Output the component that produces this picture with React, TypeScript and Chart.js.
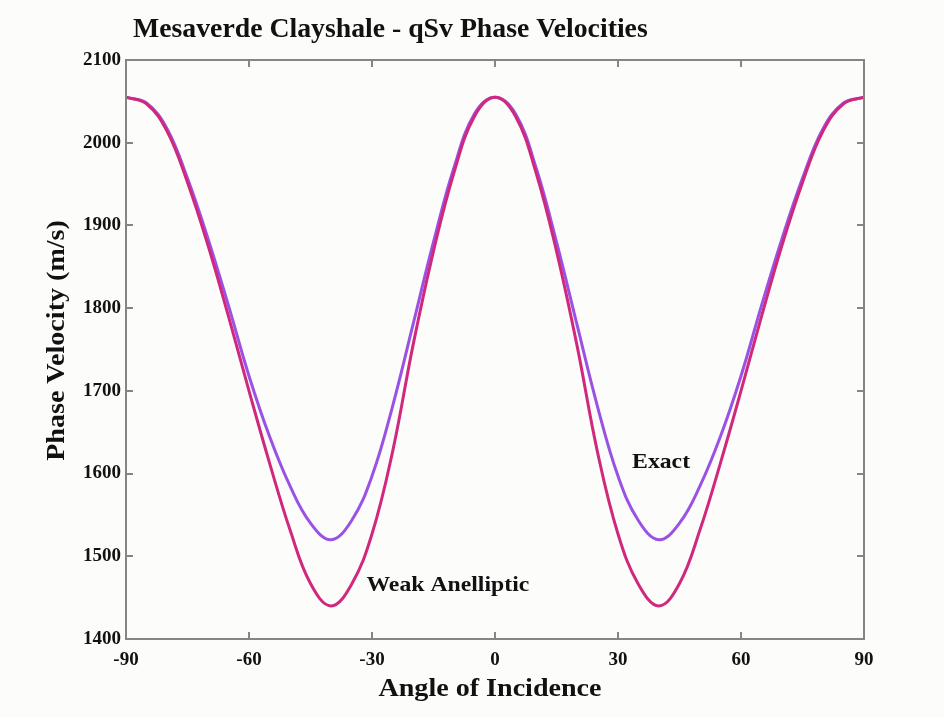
import React, { useEffect, useRef } from "react";
import { Chart, registerables } from "chart.js";

Chart.register(...registerables);

const TITLE = "Mesaverde Clayshale - qSv Phase Velocities";
const X_LABEL = "Angle of Incidence";
const Y_LABEL = "Phase Velocity (m/s)";

const angles = [
  -90, -85, -80, -75, -70, -65, -60, -55, -50, -45, -40, -35, -30, -25, -20, -15, -10, -5, 0,
  5, 10, 15, 20, 25, 30, 35, 40, 45, 50, 55, 60, 65, 70, 75, 80, 85, 90,
];

const exactVelocity = [
  2055, 2048, 2017, 1957, 1884, 1803, 1718, 1645, 1585, 1540, 1520, 1543, 1597, 1681, 1780, 1880, 1970, 2035, 2055,
  2035, 1970, 1880, 1780, 1681, 1597, 1543, 1520, 1540, 1585, 1645, 1718, 1803, 1884, 1957, 2017, 2048, 2055,
];

const weakAnellipticVelocity = [
  2055, 2047, 2014, 1952, 1876, 1790, 1700, 1613, 1532, 1467, 1440, 1466, 1527, 1626, 1755, 1869, 1964, 2032, 2055,
  2032, 1964, 1869, 1755, 1626, 1527, 1466, 1440, 1467, 1532, 1613, 1700, 1790, 1876, 1952, 2014, 2047, 2055,
];

const xTicks = [-90, -60, -30, 0, 30, 60, 90];
const yTicks = [1400, 1500, 1600, 1700, 1800, 1900, 2000, 2100];

const annotationLabels = ["Exact", "Weak Anelliptic"];
const annotationAngles = [40.5, -11.5];
const annotationVelocities = [1613, 1465];

const SERIF = "'Liberation Serif', 'Times New Roman', Times, serif";
const EXACT_COLOR = "#9a52e4";
const WEAK_COLOR = "#d0287c";
const FRAME_COLOR = "#858585";
const BG = "#fcfcfa";

function drawStretched(
  ctx: CanvasRenderingContext2D,
  text: string,
  x: number,
  y: number,
  sx: number,
  sy: number,
  rot = 0
) {
  ctx.save();
  ctx.translate(x, y);
  if (rot) ctx.rotate(rot);
  ctx.scale(sx, sy);
  ctx.fillText(text, 0, 0);
  ctx.restore();
}

const bgPlugin = {
  id: "bg",
  beforeDraw(chart: any) {
    const { ctx, width, height } = chart;
    ctx.save();
    ctx.fillStyle = BG;
    ctx.fillRect(0, 0, width, height);
    ctx.restore();
  },
};

const framePlugin = {
  id: "frame",
  afterDatasetsDraw(chart: any) {
    const { ctx, chartArea, scales } = chart;
    const { left, right, top, bottom } = chartArea;
    const tl = 7;
    ctx.save();
    ctx.strokeStyle = FRAME_COLOR;
    ctx.lineWidth = 2;
    ctx.strokeRect(left, top, right - left, bottom - top);
    ctx.beginPath();
    xTicks.forEach((v) => {
      const px = Math.round(scales.x.getPixelForValue(v));
      ctx.moveTo(px, bottom);
      ctx.lineTo(px, bottom - tl);
      ctx.moveTo(px, top);
      ctx.lineTo(px, top + tl);
    });
    yTicks.forEach((v) => {
      const py = Math.round(scales.y.getPixelForValue(v));
      ctx.moveTo(left, py);
      ctx.lineTo(left + tl, py);
      ctx.moveTo(right, py);
      ctx.lineTo(right - tl, py);
    });
    ctx.stroke();
    ctx.restore();
  },
};

const textPlugin = {
  id: "texts",
  afterDraw(chart: any) {
    const { ctx, chartArea, scales } = chart;
    ctx.save();
    ctx.fillStyle = "#111";
    ctx.textBaseline = "middle";

    ctx.font = `bold 27px ${SERIF}`;
    ctx.textAlign = "left";
    drawStretched(ctx, TITLE, chartArea.left + 7, chartArea.top - 30, 1.028, 1.0);

    ctx.font = `bold 26px ${SERIF}`;
    ctx.textAlign = "center";
    drawStretched(ctx, X_LABEL, (chartArea.left + chartArea.right) / 2 - 5, chartArea.bottom + 50, 1.08, 1.0);
    drawStretched(ctx, Y_LABEL, chartArea.left - 69, (chartArea.top + chartArea.bottom) / 2 - 9, 1.08, 1.0, -Math.PI / 2);

    ctx.font = `bold 21px ${SERIF}`;
    annotationLabels.forEach((t, i) => {
      const px = scales.x.getPixelForValue(annotationAngles[i]);
      const py = scales.y.getPixelForValue(annotationVelocities[i]);
      drawStretched(ctx, t, px, py, 1.13, 1.0);
    });
    ctx.restore();
  },
};

export default function App() {
  const canvasRef = useRef<HTMLCanvasElement | null>(null);

  useEffect(() => {
    document.body.style.margin = "0";
    const canvas = canvasRef.current;
    if (!canvas) return;
    const chart = new Chart(canvas, {
      type: "line",
      data: {
        datasets: [
          {
            label: "Weak Anelliptic",
            data: angles.map((a, i) => ({ x: a, y: weakAnellipticVelocity[i] })),
            borderColor: WEAK_COLOR,
            borderWidth: 3,
            pointRadius: 0,
            fill: false,
            tension: 0.4,
            order: 0,
          },
          {
            label: "Exact",
            data: angles.map((a, i) => ({ x: a, y: exactVelocity[i] })),
            borderColor: EXACT_COLOR,
            borderWidth: 3,
            pointRadius: 0,
            fill: false,
            tension: 0.4,
            order: 1,
          },
        ],
      },
      options: {
        responsive: false,
        animation: false,
        devicePixelRatio: 1,
        layout: { padding: { left: 0, top: 60, right: 80, bottom: 0 } },
        plugins: {
          legend: { display: false },
          tooltip: { enabled: false },
          title: { display: false },
        },
        scales: {
          x: {
            type: "linear",
            min: -90,
            max: 90,
            grid: { display: false, drawTicks: false },
            border: { display: false },
            afterBuildTicks: (s: any) => {
              s.ticks = xTicks.map((v) => ({ value: v }));
            },
            afterFit: (s: any) => {
              s.height = 78;
            },
            ticks: {
              color: "#111",
              padding: 10,
              maxRotation: 0,
              callback: (v: any) => String(v),
              font: { family: SERIF, size: 19, weight: "bold" },
            },
          },
          y: {
            type: "linear",
            min: 1400,
            max: 2100,
            grid: { display: false, drawTicks: false },
            border: { display: false },
            afterBuildTicks: (s: any) => {
              s.ticks = yTicks.map((v) => ({ value: v }));
            },
            afterFit: (s: any) => {
              s.width = 126;
            },
            ticks: {
              color: "#111",
              padding: 5,
              callback: (v: any) => String(v),
              font: { family: SERIF, size: 19, weight: "bold" },
            },
          },
        },
      },
      plugins: [bgPlugin, framePlugin, textPlugin],
    } as any);
    return () => chart.destroy();
  }, []);

  return (
    <div style={{ position: "absolute", left: 0, top: 0, width: 944, height: 717 }}>
      <canvas ref={canvasRef} width={944} height={717} style={{ width: 944, height: 717 }} />
    </div>
  );
}
